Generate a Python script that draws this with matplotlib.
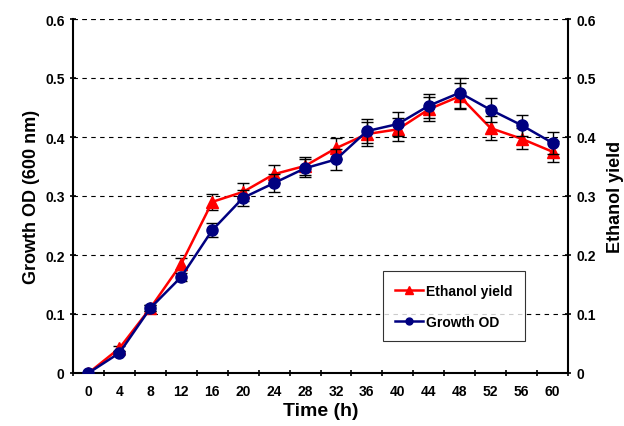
import matplotlib
matplotlib.use('Agg')
import matplotlib.pyplot as plt
from matplotlib.lines import Line2D
import numpy as np

plt.rcParams['font.family'] = ['Liberation Sans', 'DejaVu Sans']
plt.rcParams['font.weight'] = 'bold'

# time points (h)
time_h = ['0', '4', '8', '12', '16', '20', '24', '28', '32', '36', '40', '44', '48', '52', '56', '60']

# ethanol yield and its error
ethanol = [0.0, 0.042, 0.11, 0.185, 0.29, 0.307, 0.337, 0.351, 0.381, 0.405, 0.413, 0.447, 0.469, 0.415, 0.397, 0.375]
ethanol_err = [0.0, 0.004, 0.005, 0.01, 0.013, 0.015, 0.015, 0.015, 0.018, 0.02, 0.02, 0.02, 0.022, 0.02, 0.018, 0.018]

# growth OD and its error
growth = [0.0, 0.034, 0.11, 0.163, 0.242, 0.297, 0.322, 0.347, 0.362, 0.41, 0.422, 0.453, 0.475, 0.446, 0.42, 0.39]
growth_err = [0.0, 0.004, 0.005, 0.007, 0.012, 0.014, 0.016, 0.015, 0.018, 0.02, 0.02, 0.02, 0.025, 0.02, 0.018, 0.018]

x = np.arange(len(time_h))

fig = plt.figure(figsize=(6.24, 4.27), dpi=100)
ax = fig.add_axes([73 / 624, 53 / 427, 495 / 624, 354 / 427])

# red ethanol line with triangles
ax.errorbar(x, ethanol, yerr=ethanol_err, color='#ff0000', marker='^', markersize=8,
            linewidth=1.8, ecolor='black', elinewidth=1, capsize=4, capthick=1, zorder=3)
# blue growth line with circles
ax.errorbar(x, growth, yerr=growth_err, color='#000080', marker='o', markersize=8,
            linewidth=1.8, ecolor='black', elinewidth=1, capsize=4, capthick=1, zorder=4)

ax.set_xlim(-0.5, len(time_h) - 0.5)
ax.set_ylim(0, 0.6)
ax.set_yticks([0, 0.1, 0.2, 0.3, 0.4, 0.5, 0.6])
ax.set_yticklabels(['0', '0.1', '0.2', '0.3', '0.4', '0.5', '0.6'])
ax.set_xticks(x)
ax.set_xticklabels(time_h)
ax.set_xticks(np.arange(-0.5, len(time_h), 1), minor=True)
ax.tick_params(axis='x', which='major', length=0, pad=8, labelsize=10)
ax.tick_params(axis='x', which='minor', length=5, direction='inout', width=1.2)
ax.tick_params(axis='y', length=5, direction='inout', width=1.2, labelsize=10)

# dashed gridlines
ax.yaxis.grid(True, linestyle=(0, (4, 4)), color='black', linewidth=0.8)
ax.set_axisbelow(True)

ax.spines['top'].set_visible(False)
ax.spines['right'].set_visible(False)
ax.spines['left'].set_linewidth(1.5)
ax.spines['bottom'].set_linewidth(1.5)
ax.axhline(0.6, linestyle=(0, (4, 4)), color='black', linewidth=0.8)

ax.set_xlabel('Time (h)', fontsize=14, fontweight='bold', labelpad=3)
ax.set_ylabel('Growth OD (600 nm)', fontsize=13, fontweight='bold', labelpad=4)

# right axis
ax2 = ax.twinx()
ax2.set_ylim(0, 0.6)
ax2.set_yticks([0, 0.1, 0.2, 0.3, 0.4, 0.5, 0.6])
ax2.set_yticklabels(['0', '0.1', '0.2', '0.3', '0.4', '0.5', '0.6'])
ax2.tick_params(axis='y', length=5, direction='inout', width=1.2, labelsize=10)
for s in ['top', 'left', 'bottom']:
    ax2.spines[s].set_visible(False)
ax2.spines['right'].set_linewidth(1.5)
ax2.set_ylabel('Ethanol yield', fontsize=13, fontweight='bold', labelpad=8)

# legend without error bars, small markers
handles = [Line2D([], [], color='#ff0000', marker='^', markersize=6, linewidth=1.8),
           Line2D([], [], color='#000080', marker='o', markersize=5, linewidth=1.8)]
leg = ax.legend(handles, ['Ethanol yield', 'Growth OD'], loc='lower left',
                bbox_to_anchor=(0.626, 0.09), fontsize=10, frameon=True, fancybox=False,
                edgecolor='black', handlelength=2.0, borderpad=0.9, labelspacing=1.2,
                handletextpad=0.2, borderaxespad=0)
leg.get_frame().set_linewidth(0.8)

fig.savefig('out.png', dpi=100)
